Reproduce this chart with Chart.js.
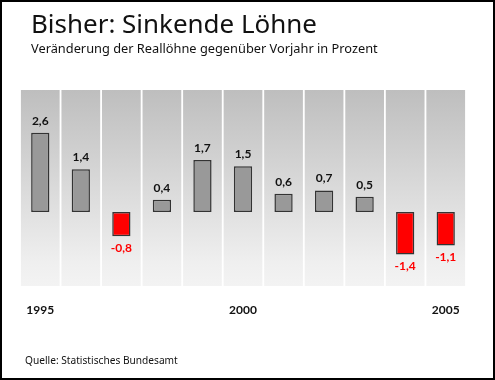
<!DOCTYPE html>
<html>
<head>
<meta charset="utf-8">
<script src="https://cdn.jsdelivr.net/npm/chart.js@4/dist/chart.umd.min.js"></script>
<style>
html,body{margin:0;padding:0;background:#fff;}
#wrap{position:relative;width:495px;height:380px;}
canvas{display:block;}
</style>
</head>
<body>
<div id="wrap"><canvas id="c" width="495" height="380"></canvas></div>
<script>
// ---- data ----
const years = ['1995','1996','1997','1998','1999','2000','2001','2002','2003','2004','2005'];
const values = [2.6, 1.4, -0.8, 0.4, 1.7, 1.5, 0.6, 0.7, 0.5, -1.4, -1.1];
const shownYears = ['1995','2000','2005'];
const titleText = 'Bisher: Sinkende Löhne';
const subtitleText = 'Veränderung der Reallöhne gegenüber Vorjahr in Prozent';
const sourceText = 'Quelle: Statistisches Bundesamt';
const yMin = -2.43;
const yMax = 4.0;
const bandData = years.map(() => [yMin, yMax]);

const FONT = '"Noto Sans", "Open Sans", sans-serif';
const NUMFONT = 'Lato, "Open Sans", sans-serif';

function fitFont(ctx, text, weight, size, family, targetW) {
  ctx.font = weight + ' ' + size + 'px ' + family;
  const w = ctx.measureText(text).width;
  if (w > 0) {
    const s = Math.min(size * 1.15, size * targetW / w);
    ctx.font = weight + ' ' + s.toFixed(2) + 'px ' + family;
  }
}

const textPlugin = {
  id: 'texts',
  afterDatasetsDraw(chart) {
    const ctx = chart.ctx;
    const x = chart.scales.x, y = chart.scales.y;
    ctx.save();
    // value labels
    const meta = chart.getDatasetMeta(0);
    ctx.textAlign = 'center';
    ctx.textBaseline = 'middle';
    ctx.font = 'bold 12px ' + NUMFONT;
    values.forEach((v, i) => {
      const bar = meta.data[i];
      const lbl = v.toFixed(1).replace('.', ',');
      if (v >= 0) {
        ctx.fillStyle = '#111';
        ctx.fillText(lbl, bar.x, y.getPixelForValue(v) - 12);
      } else {
        ctx.fillStyle = '#ff0000';
        ctx.fillText(lbl, bar.x, y.getPixelForValue(v) + 11.5);
      }
    });
    // year labels
    ctx.fillStyle = '#111';
    ctx.textBaseline = 'alphabetic';
    ctx.font = 'bold 12px ' + NUMFONT;
    shownYears.forEach(yr => {
      const i = years.indexOf(yr);
      ctx.fillText(yr, x.getPixelForValue(i), 314);
    });
    // titles
    ctx.textAlign = 'left';
    ctx.fillStyle = '#111';
    fitFont(ctx, titleText, 'normal', 25, FONT, 286);
    ctx.fillText(titleText, 31, 33);
    fitFont(ctx, subtitleText, 'normal', 14, FONT, 347);
    ctx.fillText(subtitleText, 31, 53);
    fitFont(ctx, sourceText, 'normal', 11, FONT, 153);
    ctx.fillText(sourceText, 25, 363.5);
    // frame
    ctx.strokeStyle = '#000';
    ctx.lineWidth = 2;
    ctx.strokeRect(1, 1, 493, 378);
    ctx.restore();
  }
};

function bandGradient(context) {
  const area = context.chart.chartArea;
  if (!area) return '#d8d8d8';
  const g = context.chart.ctx.createLinearGradient(0, area.top, 0, area.bottom);
  g.addColorStop(0, '#bebebe');
  g.addColorStop(0.88, '#efefef');
  g.addColorStop(1, '#f3f3f3');
  return g;
}

new Chart(document.getElementById('c'), {
  type: 'bar',
  data: {
    labels: years,
    datasets: [
      {
        label: 'Reallöhne',
        data: values,
        backgroundColor: values.map(v => v < 0 ? '#ff0000' : '#999999'),
        borderColor: '#333333',
        borderWidth: 1.5,
        borderSkipped: false,
        barPercentage: 0.45,
        categoryPercentage: 1,
        grouped: false,
        order: 0
      },
      {
        label: 'band',
        data: bandData,
        backgroundColor: bandGradient,
        borderWidth: 0,
        barPercentage: 0.955,
        categoryPercentage: 1,
        grouped: false,
        order: 1
      }
    ]
  },
  options: {
    responsive: false,
    animation: false,
    devicePixelRatio: 1,
    layout: { padding: { left: 20, right: 29, top: 90, bottom: 94 } },
    plugins: { legend: { display: false }, tooltip: { enabled: false }, title: { display: false } },
    scales: {
      x: { display: false, offset: true },
      y: { display: false, min: yMin, max: yMax }
    }
  },
  plugins: [textPlugin]
});
</script>
</body>
</html>
